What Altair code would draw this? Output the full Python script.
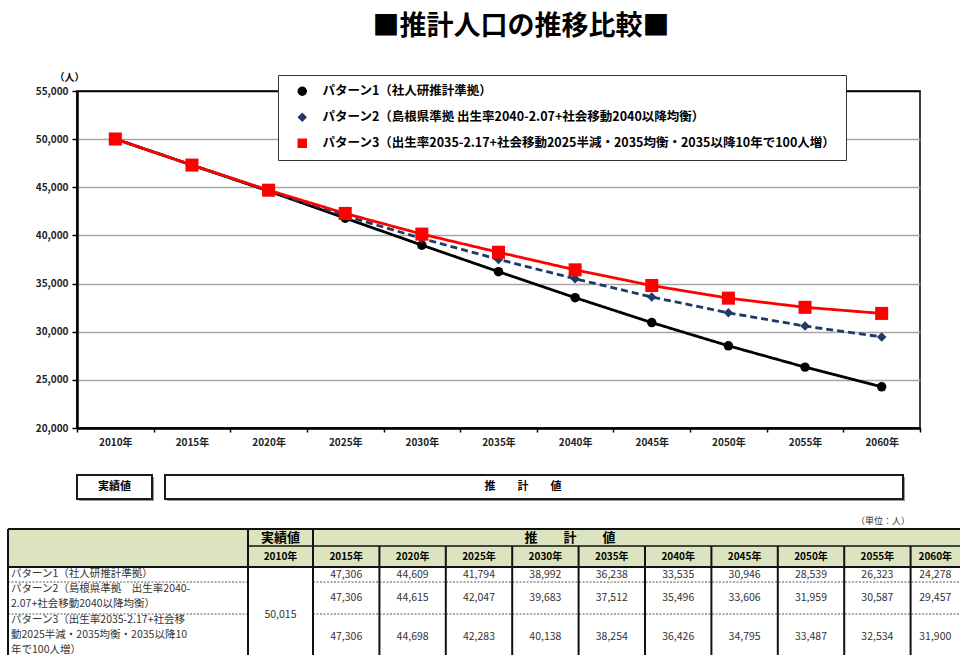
import altair as alt
import pandas as pd

FONT = "Noto Sans CJK JP"

# ---- data -------------------------------------------------------------
years = [2010, 2015, 2020, 2025, 2030, 2035, 2040, 2045, 2050, 2055, 2060]
year_labels = [f"{y}年" for y in years]

series_names = [
    "パターン1（社人研推計準拠）",
    "パターン2（島根県準拠 出生率2040-2.07+社会移動2040以降均衡）",
    "パターン3（出生率2035-2.17+社会移動2025半減・2035均衡・2035以降10年で100人増）",
]
pattern1 = [50015, 47306, 44609, 41794, 38992, 36238, 33535, 30946, 28539, 26323, 24278]
pattern2 = [50015, 47306, 44615, 42047, 39683, 37512, 35496, 33606, 31959, 30587, 29457]
pattern3 = [50015, 47306, 44698, 42283, 40138, 38254, 36426, 34795, 33487, 32534, 31900]

series_colors = ["#000000", "#1f3a68", "#ff0000"]
series_shapes = ["circle", "diamond", "square"]
series_dashes = [[1, 0], [7, 4], [1, 0]]

table_row_labels = [
    "パターン1（社人研推計準拠）",
    "パターン2（島根県準拠　出生率2040-\n2.07+社会移動2040以降均衡）",
    "パターン3（出生率2035-2.17+社会移\n動2025半減・2035均衡・2035以降10\n年で100人増）",
]
title_text = "■推計人口の推移比較■"
actual_label = "実績値"
forecast_label = "推　　計　　値"
unit_label = "（単位：人）"
y_unit = "（人）"

# ---- line chart ---------------------------------------------------------
PLOT_W, PLOT_H = 843, 337

records = []
for k, (name, vals) in enumerate(zip(series_names, [pattern1, pattern2, pattern3])):
    for lab, v in zip(year_labels, vals):
        records.append({"year": lab, "series": name, "value": v, "k": k})
long_df = pd.DataFrame(records)

color_scale = alt.Scale(domain=series_names, range=series_colors)
shape_scale = alt.Scale(domain=series_names, range=series_shapes)
dash_scale = alt.Scale(domain=series_names, range=series_dashes)

# one shared legend definition so color / shape / dash merge into a single box
legend = alt.Legend(
    title=None, orient="none", legendX=201, legendY=-16, direction="vertical",
    fillColor="white", strokeColor="#333333", padding=10, rowPadding=13,
    labelFont=FONT, labelFontSize=12.5, labelFontWeight="bold", labelColor="black",
    labelLimit=1000, labelOffset=14, symbolSize=90, symbolStrokeWidth=0,
    symbolOffset=8,
)

edge_cond = "datum.value == 55000 || datum.value == 20000"

base = alt.Chart(long_df).encode(
    x=alt.X(
        "year:N", sort=year_labels, title=None,
        scale=alt.Scale(type="band", paddingInner=0, paddingOuter=0),
        axis=alt.Axis(
            labelAngle=0, labelFont=FONT, labelFontSize=10, labelFontWeight="bold",
            labelColor="#222222", tickBand="extent", tickSize=4, tickColor="black",
            tickWidth=1.5, domainColor="black", domainWidth=2.5, labelPadding=5,
            grid=False,
        ),
    ),
    y=alt.Y(
        "value:Q", title=y_unit,
        scale=alt.Scale(domain=[20000, 55000], nice=False, zero=False),
        axis=alt.Axis(
            values=list(range(20000, 55001, 5000)), format=",d",
            labelFont=FONT, labelFontSize=10, labelFontWeight="bold",
            labelColor="#222222", labelPadding=4, tickSize=5, tickColor="black",
            tickWidth=1.5, domainColor="black", domainWidth=2.5,
            gridColor=alt.condition(edge_cond, alt.value("black"), alt.value("#a6a6a6")),
            gridWidth=1.5,
            titleAngle=0, titleX=-8, titleY=-14, titleAlign="center",
            titleBaseline="middle", titleFont=FONT, titleFontSize=10,
            titleFontWeight="bold", titleColor="black",
        ),
    ),
)

lines = base.mark_line(strokeWidth=2.8).encode(
    color=alt.Color("series:N", scale=color_scale, legend=legend),
    strokeDash=alt.StrokeDash("series:N", scale=dash_scale, legend=legend),
    order=alt.Order("k:Q"),
)

points = base.mark_point(filled=True, opacity=1, strokeWidth=0).encode(
    color=alt.Color("series:N", scale=color_scale, legend=legend),
    shape=alt.Shape("series:N", scale=shape_scale, legend=legend),
    size=alt.condition("datum.k == 2", alt.value(170), alt.value(90)),
)

line_panel = alt.layer(lines, points).properties(
    width=PLOT_W, height=PLOT_H,
    view=alt.ViewBackground(stroke="black", strokeWidth=1.5),
)

# ---- banner + table -----------------------------------------------------
X_LEFT, X_RIGHT = 77, 961
Y_TOP, Y_BOTTOM = 466, 655
xs = alt.Scale(domain=[X_LEFT, X_RIGHT], nice=False, zero=False)
ys = alt.Scale(domain=[Y_TOP, Y_BOTTOM], nice=False, zero=False, reverse=True)

def X(field):
    return alt.X(field, type="quantitative", scale=xs, axis=None)

def Y(field):
    return alt.Y(field, type="quantitative", scale=ys, axis=None)

# banner boxes above the table
banner = pd.DataFrame({
    "x": [77, 165], "x2": [152, 903], "y": [474, 474], "y2": [498, 498],
    "label": [actual_label, forecast_label], "tx": [114.5, 523],
})
banner["sx"] = banner["x"] + 2
banner["sx2"] = banner["x2"] + 2
banner["sy"] = banner["y"] + 2
banner["sy2"] = banner["y2"] + 2
banner["ty"] = (banner["y"] + banner["y2"]) / 2

banner_shadow = alt.Chart(banner).mark_rect(fill="#9a9a9a").encode(
    x=X("sx"), x2="sx2", y=Y("sy"), y2="sy2")
banner_box = alt.Chart(banner).mark_rect(fill="white", stroke="#1a1a1a", strokeWidth=2).encode(
    x=X("x"), x2="x2", y=Y("y"), y2="y2")
banner_text = alt.Chart(banner).mark_text(
    font=FONT, fontSize=11, fontWeight="bold", color="black"
).encode(x=X("tx"), y=Y("ty"), text="label:N")

# table geometry
COL_STEP = 66.4
col_edges = [8, 248, 313] + [313 + COL_STEP * i for i in range(1, 10)] + [960]
row_edges = [528, 545, 566, 581, 613, 654]
col_centers = [(a + b) / 2 for a, b in zip(col_edges[:-1], col_edges[1:])]

header_fill = alt.Chart(pd.DataFrame({"x": [col_edges[0]], "x2": [col_edges[-1]],
                                       "y": [row_edges[0]], "y2": [row_edges[2]]})
                        ).mark_rect(fill="#dce3bf").encode(
    x=X("x"), x2="x2", y=Y("y"), y2="y2")

solid_rules = []
solid_rules.append((col_edges[0], col_edges[-1], row_edges[0], row_edges[0], 2))
solid_rules.append((col_edges[1], col_edges[-1], row_edges[1], row_edges[1], 1.5))
solid_rules.append((col_edges[0], col_edges[-1], row_edges[2], row_edges[2], 2))
for i, xe in enumerate(col_edges[:-1]):
    top = row_edges[0] if i < 3 else row_edges[1]
    solid_rules.append((xe, xe, top, row_edges[-1], 2))
solid_df = pd.DataFrame(solid_rules, columns=["x", "x2", "y", "y2", "w"])
table_lines = alt.Chart(solid_df).mark_rule(color="#111111").encode(
    x=X("x"), x2="x2", y=Y("y"), y2="y2",
    strokeWidth=alt.StrokeWidth("w:Q", scale=None),
)

dash_rules = []
for ye in row_edges[3:5]:
    dash_rules.append((col_edges[0], col_edges[1], ye))
    dash_rules.append((col_edges[2], col_edges[-1], ye))
dash_df = pd.DataFrame(dash_rules, columns=["x", "x2", "y"])
table_dashes = alt.Chart(dash_df).mark_rule(
    color="#555555", strokeWidth=1, strokeDash=[2, 1.5]
).encode(x=X("x"), x2="x2", y=Y("y"), y2="y")

# header texts
hdr1 = pd.DataFrame({
    "x": [col_centers[1], 570], "y": [(row_edges[0] + row_edges[1]) / 2] * 2,
    "t": [actual_label, forecast_label],
})
hdr1_text = alt.Chart(hdr1).mark_text(
    font=FONT, fontSize=13, fontWeight="bold", color="black"
).encode(x=X("x"), y=Y("y"), text="t:N")

hdr2 = pd.DataFrame({
    "x": col_centers[1:], "y": [(row_edges[1] + row_edges[2]) / 2] * len(years),
    "t": year_labels,
})
hdr2_text = alt.Chart(hdr2).mark_text(
    font=FONT, fontSize=10, fontWeight="bold", color="black"
).encode(x=X("x"), y=Y("y"), text="t:N")

# value cells
row_centers = [573.5, 597, 636]
val_records = []
for r, vals in enumerate([pattern1, pattern2, pattern3]):
    for j in range(1, len(years)):
        val_records.append({"x": col_centers[j + 1], "y": row_centers[r], "t": f"{vals[j]:,}"})
val_records.append({"x": col_centers[1], "y": 614, "t": f"{pattern1[0]:,}"})
values_text = alt.Chart(pd.DataFrame(val_records)).mark_text(
    font=FONT, fontSize=10.5, color="#333333"
).encode(x=X("x"), y=Y("y"), text="t:N")

# row labels
lab_df = pd.DataFrame({"x": [11, 11, 11], "y": [568, 583, 614], "t": table_row_labels})
labels_text = alt.Chart(lab_df).mark_text(
    font=FONT, fontSize=10.5, color="#333333", align="left", baseline="top",
    lineBreak="\n", lineHeight=15,
).encode(x=X("x"), y=Y("y"), text="t:N")

unit_text = alt.Chart(pd.DataFrame({"x": [910], "y": [520], "t": [unit_label]})).mark_text(
    font=FONT, fontSize=9, color="#333333", align="right"
).encode(x=X("x"), y=Y("y"), text="t:N")

table_panel = alt.layer(
    banner_shadow, banner_box, banner_text,
    header_fill, table_dashes, table_lines,
    hdr1_text, hdr2_text, values_text, labels_text, unit_text,
).properties(
    width=X_RIGHT - X_LEFT, height=Y_BOTTOM - Y_TOP,
    view=alt.ViewBackground(stroke=None),
)

chart = alt.vconcat(
    line_panel, table_panel, spacing=19,
    title=alt.TitleParams(
        text=title_text, font=FONT, fontSize=27, fontWeight="bold", color="black",
        anchor="middle", dx=37, offset=30,
    ),
).properties(
    padding={"left": 7, "top": 13, "right": 0, "bottom": 0},
).configure(font=FONT).configure_view(stroke=None)

chart.save("out.html", embed_options={"renderer": "svg", "actions": False})
